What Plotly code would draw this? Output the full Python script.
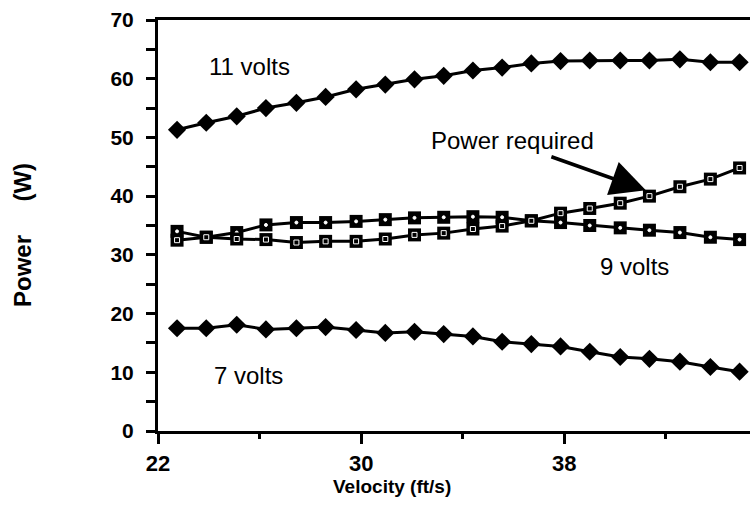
import plotly.graph_objects as go

# Velocity (ft/s) of each measured point
velocity = [22.75, 23.9, 25.1, 26.25, 27.45, 28.6, 29.8, 30.95, 32.1, 33.25,
            34.4, 35.55, 36.7, 37.85, 39.0, 40.2, 41.35, 42.55, 43.75, 44.9]

# Power (W)
p_11v = [51.3, 52.5, 53.6, 55.0, 55.9, 56.9, 58.2, 59.0, 59.9, 60.5,
         61.4, 61.9, 62.6, 63.0, 63.1, 63.1, 63.1, 63.3, 62.8, 62.8]
p_9v = [34.0, 33.0, 33.8, 35.1, 35.5, 35.5, 35.7, 36.0, 36.3, 36.4,
        36.5, 36.4, 35.8, 35.5, 35.0, 34.6, 34.2, 33.8, 33.0, 32.6]
p_req = [32.5, 33.0, 32.7, 32.6, 32.1, 32.3, 32.3, 32.7, 33.4, 33.7,
         34.4, 34.9, 35.8, 37.1, 37.9, 38.8, 40.0, 41.6, 42.9, 44.8]
p_7v = [17.5, 17.5, 18.1, 17.3, 17.5, 17.7, 17.2, 16.7, 16.9, 16.5,
        16.1, 15.2, 14.8, 14.4, 13.5, 12.6, 12.3, 11.8, 10.9, 10.1]

x_ticks = [22, 30, 38]
y_ticks = [0, 10, 20, 30, 40, 50, 60, 70]

FONT = "Liberation Sans, Arial, sans-serif"
BLACK = "#000000"

fig = go.Figure()

def diamond_series(y):
    fig.add_trace(go.Scatter(
        x=velocity, y=y, mode="lines+markers",
        line=dict(color=BLACK, width=3),
        marker=dict(symbol="diamond", size=14, color=BLACK),
        showlegend=False, hoverinfo="skip"))

def square_series(y, inner_symbol, inner_size):
    fig.add_trace(go.Scatter(
        x=velocity, y=y, mode="lines+markers",
        line=dict(color=BLACK, width=3),
        marker=dict(symbol="square", size=13, color=BLACK),
        showlegend=False, hoverinfo="skip"))
    fig.add_trace(go.Scatter(
        x=velocity, y=y, mode="markers",
        marker=dict(symbol=inner_symbol, size=inner_size, color="white",
                    line=dict(color="white", width=1)),
        showlegend=False, hoverinfo="skip"))

diamond_series(p_11v)
diamond_series(p_7v)
square_series(p_9v, "circle", 3)
square_series(p_req, "square-open", 5)

text_font = dict(family=FONT, size=24, color=BLACK)
annotations = [
    dict(x=25.62, y=62.0, text="11 volts", showarrow=False, font=text_font),
    dict(x=25.58, y=9.4, text="7 volts", showarrow=False, font=text_font),
    dict(x=40.78, y=28.1, text="9 volts", showarrow=False, font=text_font),
    dict(x=35.94, y=49.4, text="Power required", showarrow=False, font=text_font),
    dict(x=41.21, y=41.0, ax=37.43, ay=46.8, axref="x", ayref="y",
         text="", showarrow=True, arrowhead=2, arrowsize=2.0,
         arrowwidth=3.5, arrowcolor=BLACK),
    dict(xref="paper", yref="paper", x=0.395, y=-0.136,
         xanchor="center", yanchor="middle",
         text="<b>Velocity (ft/s)</b>", showarrow=False,
         font=dict(family=FONT, size=19, color=BLACK)),
    dict(xref="paper", yref="paper", x=-0.228, y=0.477, textangle=-90,
         xanchor="center", yanchor="middle",
         text="<b>Power\u00a0\u00a0\u00a0\u00a0\u00a0(W)</b>", showarrow=False,
         font=dict(family=FONT, size=24, color=BLACK)),
]

fig.update_layout(
    width=750, height=514,
    margin=dict(l=158, r=0, t=20, b=83),
    paper_bgcolor="white", plot_bgcolor="white",
    font=dict(family=FONT, color=BLACK),
    annotations=annotations,
    xaxis=dict(
        range=[22, 45.31], tickvals=x_ticks, ticktext=[str(v) for v in x_ticks],
        showgrid=False, zeroline=False,
        showline=True, linecolor=BLACK, linewidth=3, mirror=True,
        ticks="outside", ticklen=10, tickwidth=3, tickcolor=BLACK,
        minor=dict(tickvals=[26, 34, 42], ticks="outside", ticklen=5,
                   tickwidth=3, tickcolor=BLACK, showgrid=False),
        tickfont=dict(family=FONT, size=22, color=BLACK, weight="bold"),
        ticklabelstandoff=1,
    ),
    yaxis=dict(
        range=[0, 70], tickvals=y_ticks,
        showgrid=False, zeroline=False,
        showline=True, linecolor=BLACK, linewidth=3, mirror=False,
        ticks="outside", ticklen=9, tickwidth=3, tickcolor=BLACK,
        minor=dict(tickvals=[5, 15, 25, 35, 45, 55, 65], ticks="outside",
                   ticklen=9, tickwidth=3, tickcolor=BLACK, showgrid=False),
        tickfont=dict(family=FONT, size=21, color=BLACK, weight="bold"),
        ticklabelstandoff=8,
    ),
)

fig.write_html("out.html")
